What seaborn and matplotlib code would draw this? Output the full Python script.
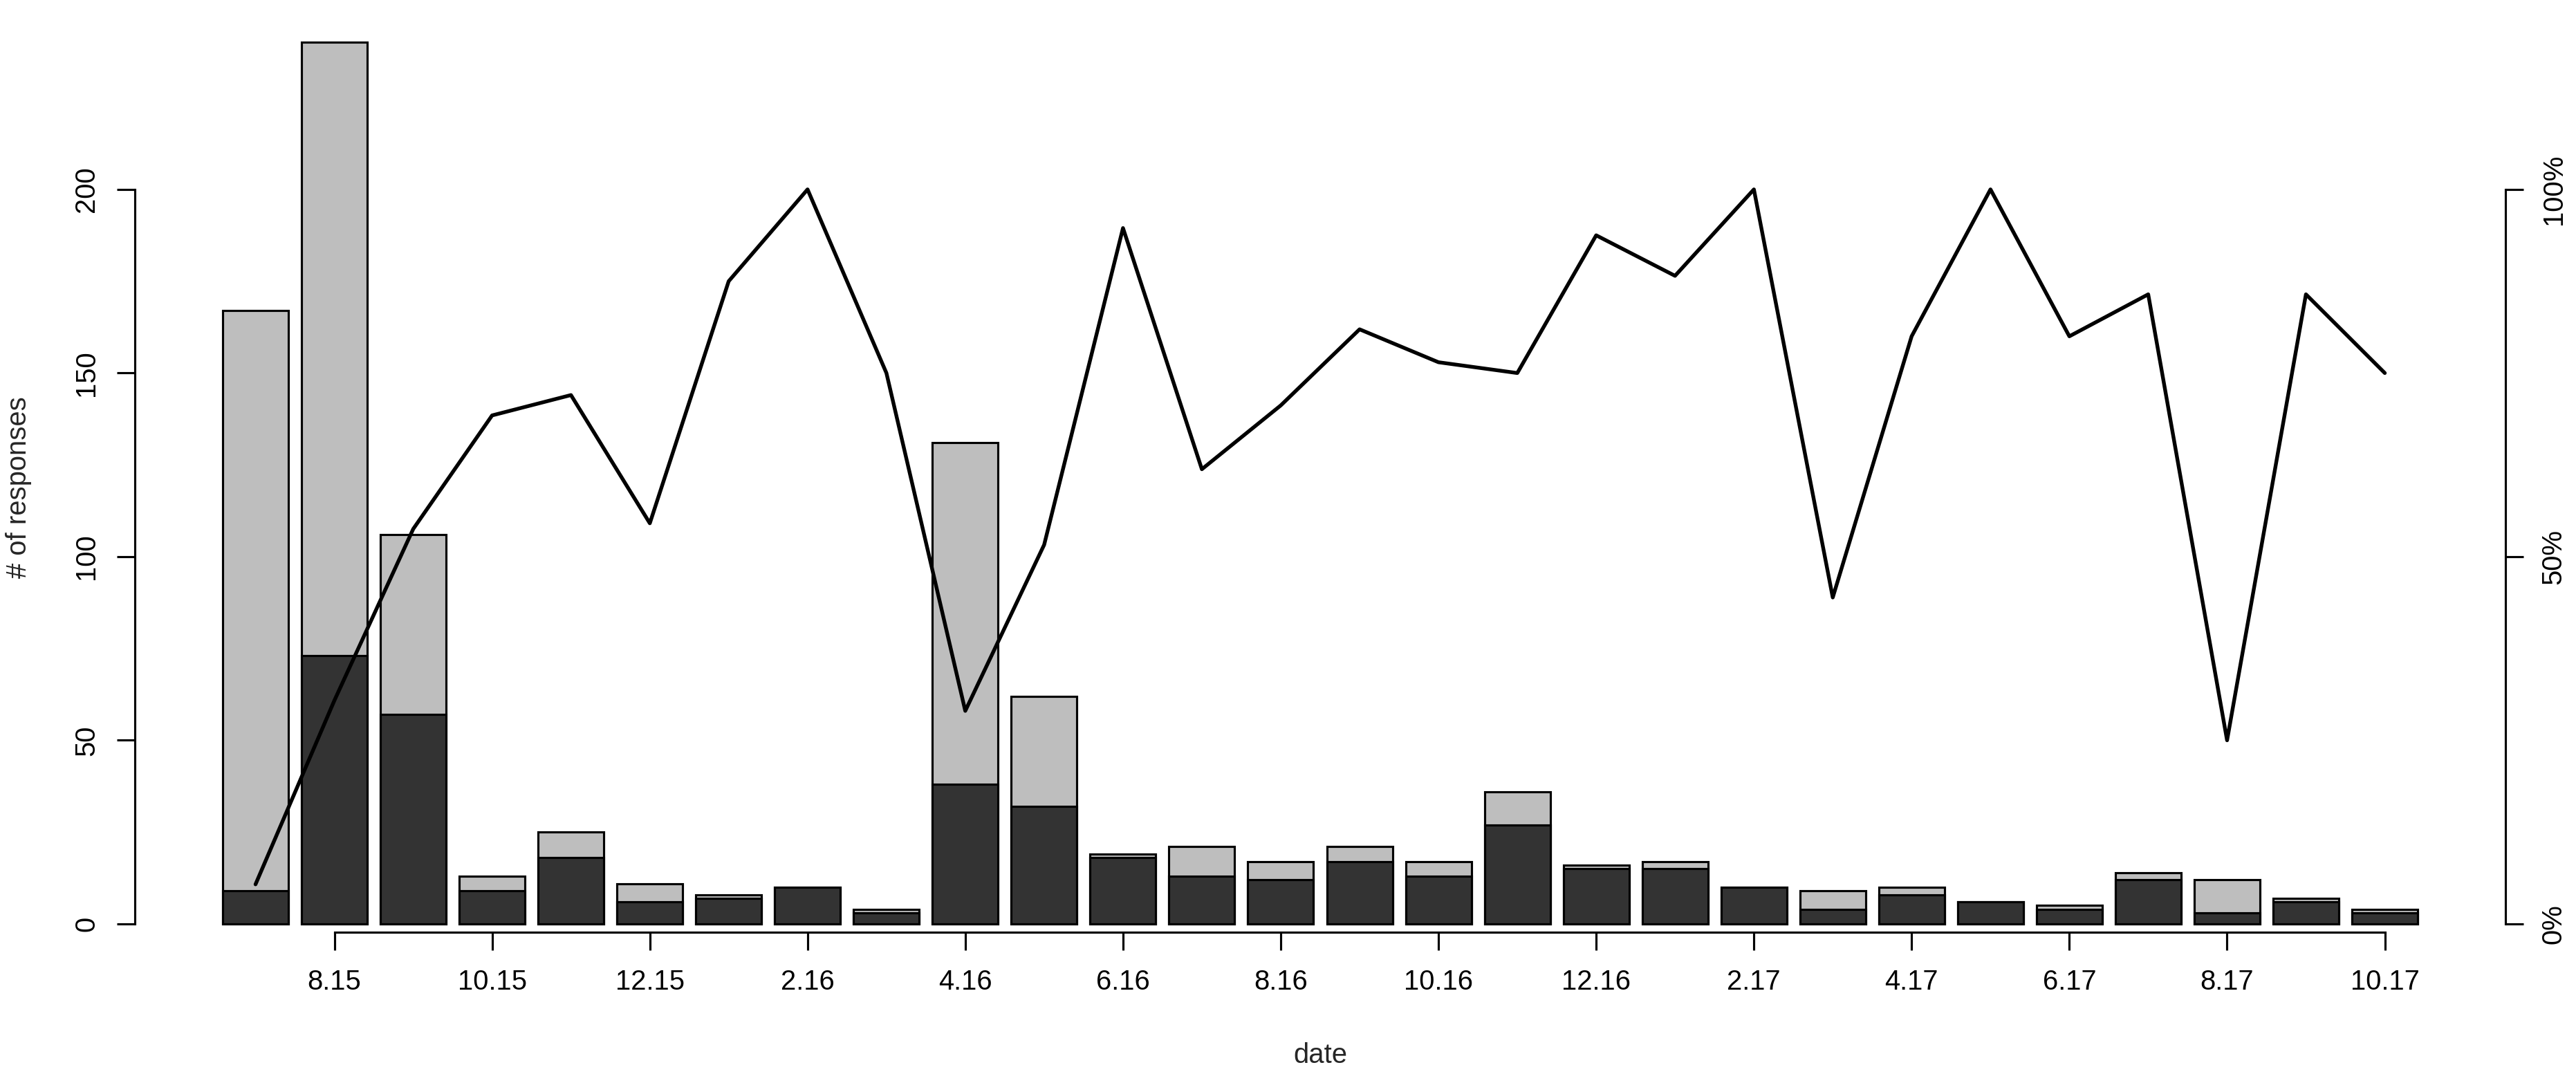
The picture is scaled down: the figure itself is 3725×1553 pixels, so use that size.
import numpy as np
import pandas as pd
import matplotlib
matplotlib.use("Agg")
import matplotlib.pyplot as plt
import seaborn as sns

# ---- data ----
months = ["7.15", "8.15", "9.15", "10.15", "11.15", "12.15", "1.16", "2.16", "3.16",
          "4.16", "5.16", "6.16", "7.16", "8.16", "9.16", "10.16", "11.16", "12.16",
          "1.17", "2.17", "3.17", "4.17", "5.17", "6.17", "7.17", "8.17", "9.17", "10.17"]
total_responses = [167, 240, 106, 13, 25, 11, 8, 10, 4, 131, 62, 19, 21, 17, 21, 17, 36, 16,
                   17, 10, 9, 10, 6, 5, 14, 12, 7, 4]
subset_responses = [9, 73, 57, 9, 18, 6, 7, 10, 3, 38, 32, 18, 13, 12, 17, 13, 27, 15,
                    15, 10, 4, 8, 6, 4, 12, 3, 6, 3]
tick_labels = months[1::2]
left_ticks = [0, 50, 100, 150, 200]
right_ticks = [0, 50, 100]
right_tick_labels = ["0%", "50%", "100%"]

share_pct = [100.0 * s / t for s, t in zip(subset_responses, total_responses)]

df = pd.DataFrame({"month": months, "total": total_responses,
                   "subset": subset_responses, "pct": share_pct})
df["pos"] = np.arange(len(df))

# ---- style ----
sns.set_style("white")
plt.rcParams["font.family"] = ["Liberation Sans", "DejaVu Sans"]
FS = 9.6
LW = 0.75

W, H, DPI = 3725, 1553, 300
fig = plt.figure(figsize=(W / DPI, H / DPI), dpi=DPI)
fig.patch.set_facecolor("white")

px_left, px_right = 195, 3623
px_top, px_bottom = 11, 1348
ax = fig.add_axes([px_left / W, (H - px_bottom) / H,
                   (px_right - px_left) / W, (px_bottom - px_top) / H])

bw = 1 / 1.2
sns.barplot(data=df, x="month", y="total", color="#BEBEBE", edgecolor="black",
            linewidth=LW, width=bw, saturation=1, errorbar=None, ax=ax, order=months)
sns.barplot(data=df, x="month", y="subset", color="#333333", edgecolor="black",
            linewidth=LW, width=bw, saturation=1, errorbar=None, ax=ax, order=months)

n = len(months)
span = (n - 1) + bw
ext = 0.04 * span
ax.set_xlim(-bw / 2 - ext, (n - 1) + bw / 2 + ext)
ax.set_ylim(-2.26, 249.5)

ax2 = ax.twinx()
sns.lineplot(data=df, x="pos", y="pct", color="black", linewidth=1.3, ax=ax2,
             solid_capstyle="round", solid_joinstyle="round")
ax2.set_ylim(-2.26 / 2, 249.5 / 2)
ax.set_xlim(-bw / 2 - ext, (n - 1) + bw / 2 + ext)

# ---- axes ----
for a in (ax, ax2):
    a.set_xlabel("")
    a.set_ylabel("")
    a.grid(False)
    for sp in a.spines.values():
        sp.set_linewidth(LW)
        sp.set_color("black")

ax.spines["top"].set_visible(False)
ax.spines["right"].set_visible(False)
ax.spines["left"].set_bounds(0, 200)
ax.spines["bottom"].set_bounds(1, n - 1)
ax2.spines["top"].set_visible(False)
ax2.spines["left"].set_visible(False)
ax2.spines["bottom"].set_visible(False)
ax2.spines["right"].set_bounds(0, 100)

ax.set_xticks(np.arange(1, n, 2))
ax.set_xticklabels(tick_labels)
ax.set_yticks(left_ticks)
ax.set_yticklabels([str(v) for v in left_ticks])
ax2.set_yticks(right_ticks)
ax2.set_yticklabels(right_tick_labels)

ax.tick_params(axis="x", direction="out", length=6.2, width=LW, pad=6.5,
               labelsize=FS, colors="black", bottom=True)
ax.tick_params(axis="y", direction="out", length=6.2, width=LW, pad=6.0,
               labelsize=FS, colors="black", left=True, labelrotation=90)
ax2.tick_params(axis="y", direction="out", length=6.2, width=LW, pad=6.0,
                labelsize=FS, colors="black", right=True, labelrotation=90)
for lab in ax.get_yticklabels() + ax2.get_yticklabels():
    lab.set_va("center")

fig.text(1909 / W, (H - 1537) / H, "date", ha="center", va="baseline", fontsize=FS)
fig.text(27 / W, (H - 705) / H, "# of responses", ha="center", va="center",
         rotation=90, fontsize=FS)

fig.savefig("out.png", dpi=DPI, facecolor="white")
